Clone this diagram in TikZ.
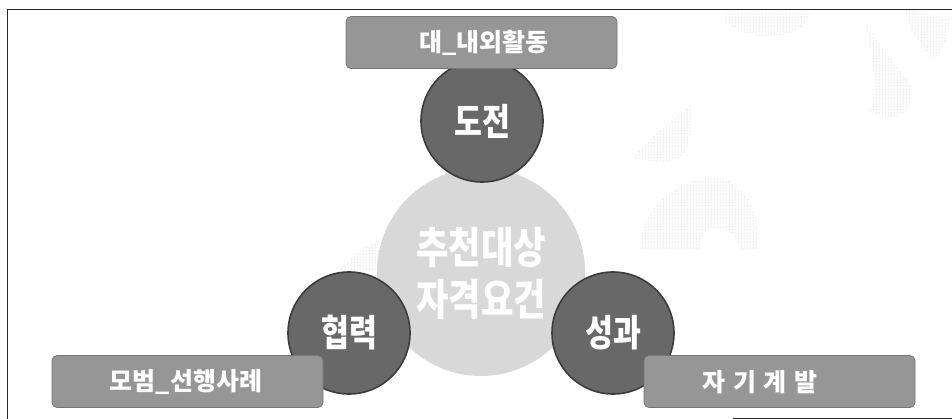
\documentclass[tikz,border=0pt]{standalone}
\usepackage{fontspec}
\usetikzlibrary{patterns}
\newfontfamily\kr{Noto Sans CJK KR}
\newfontfamily\krn{Noto Sans CJK KR}[FakeStretch=0.82]
\newfontfamily\krw{Noto Sans CJK KR}[LetterSpace=30]
\definecolor{circdark}{RGB}{104,104,104}
\definecolor{circrim}{RGB}{60,60,60}
\definecolor{boxfill}{RGB}{150,150,150}
\definecolor{boxrim}{RGB}{118,118,118}
\definecolor{centerfill}{RGB}{216,216,216}
\definecolor{frameline}{RGB}{40,40,40}
\tikzset{
  keycircle/.style={circle, fill=circdark, draw=circrim, line width=1.6pt, minimum size=122pt, inner sep=0pt,
    text=white, font=\krn\bfseries\fontsize{37}{40}\selectfont},
  tagbox/.style={rectangle, rounded corners=5pt, fill=boxfill, draw=boxrim, line width=0.8pt,
    minimum width=271pt, minimum height=52pt, inner sep=0pt},
  tagtext/.style={text=white, font=\kr\bfseries\fontsize{25}{28}\selectfont, inner sep=0pt},
  bigcircle/.style={circle, fill=centerfill, minimum size=208pt, inner sep=0pt},
  bigtext/.style={text=white, font=\krn\bfseries\fontsize{43}{50}\selectfont, align=center, inner sep=0pt},
  swirl/.style={pattern=dots, pattern color=gray!55, draw=none},
  frame/.style={draw=frameline, line width=0.9pt}
}
\begin{document}
\begin{tikzpicture}[x=1pt,y=-1pt]
\useasboundingbox (0,0) rectangle (952,419);
% frame
\draw[frame] (952,9) -- (7,9) -- (7,419);
\draw[frame] (733,418) -- (952,418);
% faint background swirls
\path[swirl] (725,12) .. controls (760,12) and (800,14) .. (812,12) .. controls (800,40) and (760,45) .. (725,22) -- cycle;
\path[swirl] (865,22) .. controls (880,50) and (905,70) .. (912,90) .. controls (915,115) and (890,125) .. (870,110) .. controls (880,80) and (870,50) .. (865,22) -- cycle;
\path[swirl] (905,10) .. controls (930,12) and (945,20) .. (950,18) .. controls (948,40) and (940,58) .. (935,58) .. controls (915,40) and (908,25) .. (905,10) -- cycle;
\path[swirl] (692,105) .. controls (693,130) and (690,150) .. (680,158) .. controls (660,165) and (640,160) .. (632,157) .. controls (650,140) and (670,120) .. (692,105) -- cycle;
\path[swirl] (640,250) .. controls (640,200) and (690,175) .. (720,178) .. controls (750,185) and (760,220) .. (758,250) -- (740,250) .. controls (735,225) and (700,215) .. (700,250) -- cycle;
\path[swirl] (340,270) .. controls (350,255) and (370,245) .. (380,240) -- (380,268) .. controls (365,272) and (350,275) .. (340,270) -- cycle;
% central circle
\node[bigcircle] (center) at (481,272) {};
\node[bigtext] (centertext) at (481,273) {추천대상\\[2pt]자격요건};
% key circles
\node[keycircle] (challenge) at (482,121) {도전};
\node[keycircle] (coop) at (349,333) {협력};
\node[keycircle] (result) at (613,333) {성과};
% tag boxes
\node[tagbox] (topbox) at (481.5,42.5) {};
\node[tagtext] (toptext) at (484,43) {대\_내외활동};
\node[tagbox] (leftbox) at (187.5,381.5) {};
\node[tagtext] (lefttext) at (186,382) {모범\_선행사례};
\node[tagbox] (rightbox) at (779.5,381.5) {};
\node[tagtext, font=\krw\bfseries\fontsize{25}{28}\selectfont] (righttext) at (760,382) {자기계발};
\end{tikzpicture}
\end{document}
